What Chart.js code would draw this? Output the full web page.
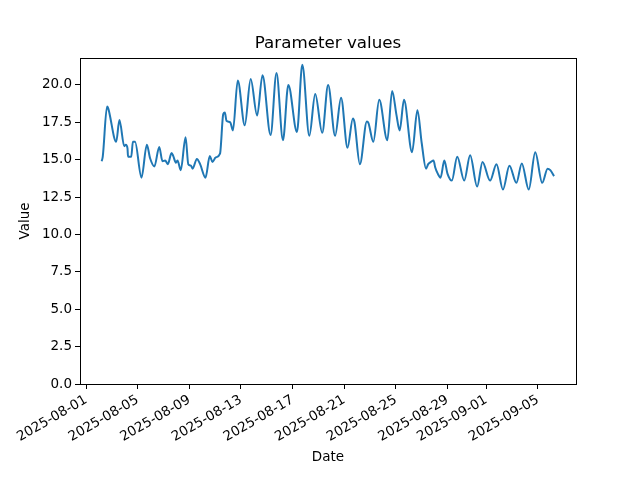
<!DOCTYPE html>
<html>
<head>
<meta charset="utf-8">
<title>Parameter values</title>
<script src="https://cdn.jsdelivr.net/npm/chart.js@4/dist/chart.umd.min.js"></script>
<style>
  html, body { margin: 0; padding: 0; background: #fff; }
  #wrap { width: 640px; height: 480px; }
</style>
</head>
<body>
<div id="wrap"><canvas id="paramChart" width="640" height="480"></canvas></div>
<script>
// hours since 2025-08-01 00:00
const hours = [
  29, 31, 39, 41, 56, 62, 71, 74, 77, 78,
  84, 87, 91, 103, 113, 119, 127, 136, 142, 147,
  152, 159, 162, 167, 170, 176, 185, 190, 195, 198,
  206, 212, 222, 230, 235, 241, 249, 255, 258, 261,
  268, 273, 282, 295, 306, 318, 328, 343, 354, 366,
  376, 392, 402, 415, 426, 439, 450, 463, 474, 486,
  496, 499, 509, 522, 525, 534, 545, 560, 569, 577,
  583, 591, 606, 616, 624, 632, 636, 641, 646, 649,
  654, 659, 666, 672, 680, 690, 703, 714, 727, 737,
  751, 763, 775, 787, 800, 810, 823, 835, 848, 858,
  863, 870
];

const values = [
  14.9, 15.2, 18.55, 18.45, 16.2, 17.65, 15.9, 16.0, 15.75, 15.2,
  15.2, 16.2, 16.2, 13.8, 16.0, 15.1, 14.55, 15.85, 14.9, 14.95,
  14.7, 15.45, 15.25, 14.8, 14.95, 14.3, 16.5, 14.7, 14.6, 14.4,
  15.05, 14.7, 13.8, 15.25, 14.85, 15.15, 15.4, 18.05, 18.15, 17.6,
  17.5, 16.95, 20.3, 17.3, 20.4, 17.95, 20.65, 16.65, 20.8, 16.3,
  20.0, 16.85, 21.35, 16.6, 19.4, 16.8, 20.0, 16.6, 19.15, 15.8,
  17.75, 17.5, 14.7, 17.55, 17.45, 16.2, 19.0, 16.3, 19.6, 18.0,
  16.95, 19.0, 15.5, 18.3, 16.1, 14.4, 14.7, 14.85, 14.95, 14.5,
  14.05, 13.8, 14.95, 14.05, 13.6, 15.2, 13.6, 15.3, 13.2, 14.85,
  13.6, 14.7, 13.0, 14.6, 13.45, 14.75, 13.0, 15.5, 13.45, 14.4,
  14.3, 13.9
];

const xTickDays = [0, 4, 8, 12, 16, 20, 24, 28, 31, 35];
const xTickLabels = [
  "2025-08-01", "2025-08-05", "2025-08-09", "2025-08-13", "2025-08-17",
  "2025-08-21", "2025-08-25", "2025-08-29", "2025-09-01", "2025-09-05"
];
const yTicks = [0, 2.5, 5, 7.5, 10, 12.5, 15, 17.5, 20];
const chartTitle = "Parameter values";

Chart.defaults.font.family = "'DejaVu Sans', sans-serif";
Chart.defaults.color = "#000";

// matplotlib style frame round the plot area, and the title centred over it
const frame = {
  id: "frame",
  afterDraw(chart) {
    const a = chart.chartArea;
    const ctx = chart.ctx;
    ctx.save();
    ctx.strokeStyle = "#000";
    ctx.lineWidth = 1;
    ctx.strokeRect(Math.round(a.left) + 0.5, Math.round(a.top) + 0.5,
      Math.round(a.right - a.left), Math.round(a.bottom - a.top));
    ctx.fillStyle = "#000";
    ctx.font = "16.7px 'DejaVu Sans', sans-serif";
    ctx.textAlign = "center";
    ctx.textBaseline = "middle";
    ctx.fillText(chartTitle, (a.left + a.right) / 2, 44);
    ctx.restore();
  }
};

const points = hours.map((h, i) => ({ x: h, y: values[i] }));

new Chart(document.getElementById("paramChart"), {
  type: "line",
  data: {
    datasets: [{
      label: "Value",
      data: points,
      borderColor: "#1f77b4",
      borderWidth: 2,
      pointRadius: 0,
      fill: false,
      cubicInterpolationMode: "monotone"
    }]
  },
  options: {
    responsive: false,
    animation: false,
    devicePixelRatio: 1,
    layout: { padding: { left: 0, right: 64, top: 58, bottom: 0 } },
    plugins: {
      legend: { display: false },
      tooltip: { enabled: false },
      title: { display: false }
    },
    scales: {
      x: {
        type: "linear",
        min: -11.3,
        max: 910.8,
        afterBuildTicks: scale => {
          scale.ticks = xTickDays.map(d => ({ value: d * 24 }));
        },
        afterFit: scale => { scale.height = 96; },
        grid: { display: true, drawOnChartArea: false, tickLength: 5, tickColor: "#000" },
        border: { display: false },
        ticks: {
          autoSkip: false,
          minRotation: 30,
          maxRotation: 30,
          padding: 3,
          font: { size: 13.5 },
          callback: (value, index) => xTickLabels[index]
        },
        title: {
          display: true,
          text: "Date",
          font: { size: 13.5, lineHeight: 1 },
          padding: { top: 0, bottom: 16 }
        }
      },
      y: {
        min: 0,
        max: 21.8,
        afterBuildTicks: scale => {
          scale.ticks = yTicks.map(v => ({ value: v }));
        },
        afterFit: scale => { scale.width = 80; },
        grid: { display: true, drawOnChartArea: false, tickLength: 5, tickColor: "#000" },
        border: { display: false },
        ticks: {
          padding: 3,
          font: { size: 13.5 },
          callback: value => Number(value).toFixed(1)
        },
        title: {
          display: true,
          text: "Value",
          font: { size: 13.5, lineHeight: 1 },
          padding: { top: 19, bottom: 0 }
        }
      }
    }
  },
  plugins: [frame]
});
</script>
</body>
</html>
